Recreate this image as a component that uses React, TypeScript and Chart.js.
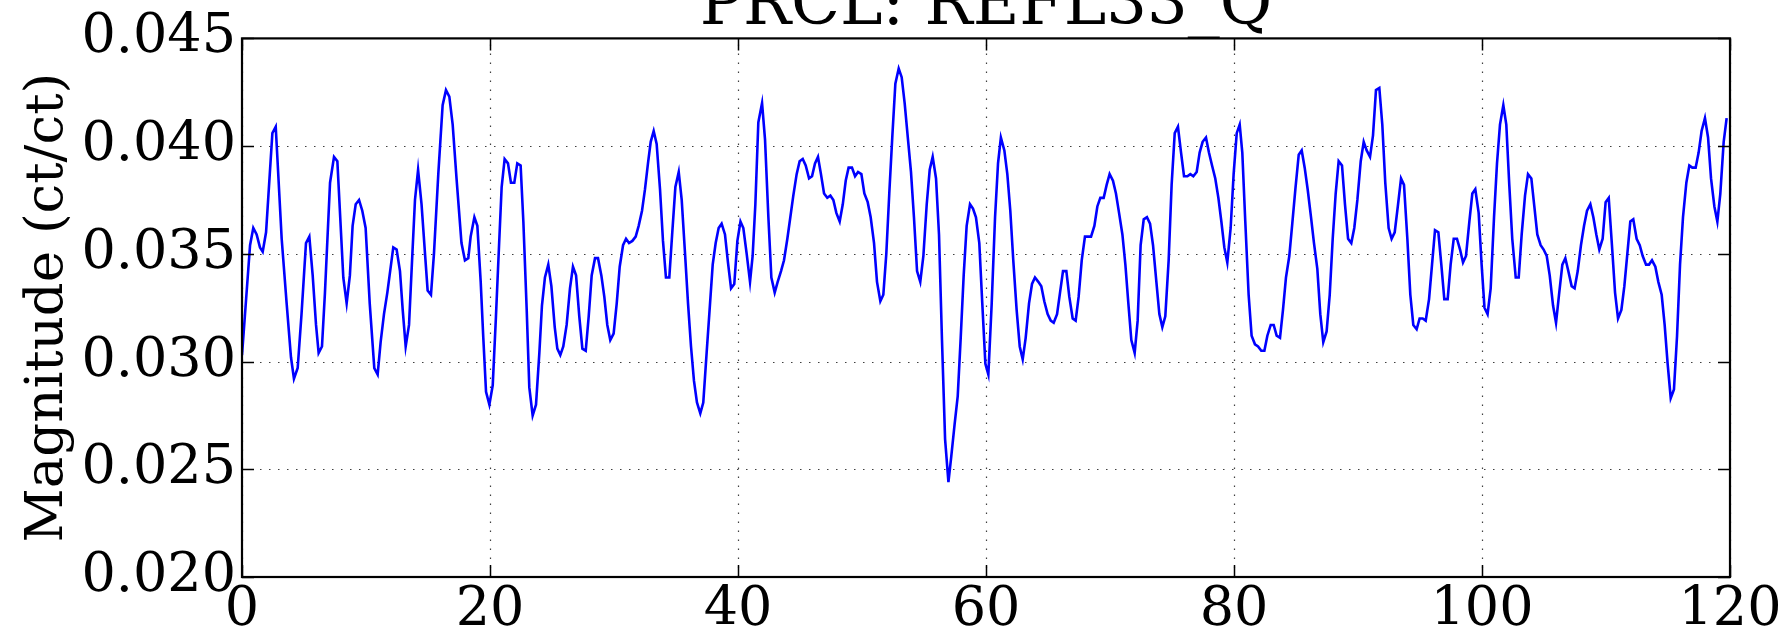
import React, { useEffect, useRef } from "react";
import { Chart, registerables } from "chart.js";

Chart.register(...registerables);

const titleText = "PRCL: REFL33_Q";
const yLabel = "Magnitude (ct/ct)";
const xTickValues = [0, 20, 40, 60, 80, 100, 120];
const yTickValues = [0.02, 0.025, 0.03, 0.035, 0.04, 0.045];

const times = [
  0, 0.65, 0.91, 1.18, 1.45, 1.67, 1.94, 2.45, 2.72, 3.2, 3.6, 3.95, 4.19, 4.49, 4.8, 5.16, 5.43, 5.7, 5.97, 6.18,
  6.45, 6.69, 7.1, 7.42, 7.69, 8.17, 8.44, 8.7, 8.92, 9.17, 9.44, 9.7, 9.97, 10.3, 10.67, 10.94, 11.18, 11.45, 11.72, 12.2,
  12.47, 12.74, 12.96, 13.2, 13.47, 13.74, 13.95, 14.2, 14.48, 14.76, 14.97, 15.24, 15.48, 15.83, 16.18, 16.45, 16.72, 16.99, 17.3, 17.7,
  17.98, 18.25, 18.44, 18.74, 18.98, 19.25, 19.46, 19.68, 19.95, 20.22, 20.48, 20.73, 20.94, 21.18, 21.45, 21.69, 21.96, 22.2, 22.47, 22.69,
  22.96, 23.17, 23.44, 23.71, 23.98, 24.19, 24.43, 24.7, 24.95, 25.22, 25.43, 25.67, 25.91, 26.18, 26.45, 26.69, 26.94, 27.2, 27.45, 27.72,
  27.96, 28.2, 28.47, 28.71, 28.98, 29.22, 29.46, 29.7, 29.97, 30.22, 30.46, 30.73, 30.97, 31.21, 31.48, 31.75, 31.99, 32.26, 32.5, 32.74,
  32.96, 33.2, 33.44, 33.71, 33.95, 34.19, 34.46, 34.7, 34.95, 35.22, 35.46, 35.73, 35.97, 36.21, 36.45, 36.69, 36.96, 37.2, 37.47, 37.71,
  37.96, 38.2, 38.44, 38.68, 38.95, 39.19, 39.44, 39.7, 39.95, 40.2, 40.43, 40.7, 40.97, 41.18, 41.4, 41.64, 41.94, 42.18, 42.45, 42.69,
  42.96, 43.2, 43.47, 43.71, 43.98, 44.22, 44.46, 44.73, 44.97, 45.22, 45.46, 45.73, 45.97, 46.21, 46.45, 46.69, 46.94, 47.2, 47.45, 47.69,
  47.93, 48.2, 48.45, 48.69, 48.92, 49.19, 49.44, 49.68, 49.95, 50.19, 50.46, 50.7, 50.97, 51.21, 51.48, 51.72, 51.96, 52.2, 52.45, 52.69,
  52.96, 53.2, 53.44, 53.71, 53.95, 54.19, 54.44, 54.7, 54.95, 55.22, 55.46, 55.7, 55.97, 56.21, 56.45, 56.7, 56.97, 57.2, 57.47, 57.72,
  57.96, 58.2, 58.44, 58.71, 58.95, 59.19, 59.46, 59.7, 59.95, 60.19, 60.46, 60.73, 60.97, 61.2, 61.48, 61.72, 61.96, 62.2, 62.47, 62.72,
  62.96, 63.2, 63.47, 63.71, 63.95, 64.22, 64.46, 64.7, 64.97, 65.22, 65.46, 65.73, 65.97, 66.21, 66.48, 66.72, 66.99, 67.23, 67.47, 67.72,
  67.98, 68.23, 68.47, 68.74, 68.98, 69.22, 69.49, 69.73, 69.97, 70.24, 70.48, 70.73, 71.0, 71.24, 71.48, 71.72, 71.99, 72.23, 72.47, 72.72,
  72.98, 73.23, 73.47, 73.74, 73.98, 74.22, 74.46, 74.73, 74.97, 75.22, 75.48, 75.73, 75.97, 76.24, 76.48, 76.72, 76.99, 77.23, 77.47, 77.74,
  77.98, 78.23, 78.49, 78.74, 78.98, 79.22, 79.46, 79.73, 79.97, 80.22, 80.46, 80.67, 80.91, 81.18, 81.42, 81.69, 81.94, 82.2, 82.45, 82.69,
  82.96, 83.2, 83.44, 83.71, 83.95, 84.19, 84.46, 84.7, 84.95, 85.22, 85.46, 85.7, 85.94, 86.21, 86.45, 86.72, 86.96, 87.2, 87.47, 87.72,
  87.96, 88.2, 88.44, 88.71, 88.95, 89.2, 89.46, 89.7, 89.95, 90.22, 90.46, 90.7, 90.97, 91.21, 91.45, 91.72, 91.96, 92.2, 92.47, 92.71,
  92.96, 93.23, 93.47, 93.71, 93.98, 94.22, 94.46, 94.73, 94.97, 95.22, 95.46, 95.73, 95.97, 96.21, 96.48, 96.72, 96.96, 97.23, 97.47, 97.72,
  97.98, 98.23, 98.47, 98.71, 98.98, 99.22, 99.46, 99.73, 99.97, 100.2, 100.45, 100.7, 100.97, 101.21, 101.45, 101.72, 101.96, 102.2, 102.44, 102.72,
  102.96, 103.2, 103.47, 103.71, 103.98, 104.22, 104.46, 104.73, 104.97, 105.22, 105.46, 105.73, 105.97, 106.21, 106.48, 106.72, 106.96, 107.23, 107.47, 107.72,
  107.98, 108.23, 108.47, 108.74, 108.98, 109.22, 109.46, 109.73, 109.97, 110.22, 110.48, 110.73, 110.97, 111.24, 111.48, 111.72, 111.96, 112.2, 112.47, 112.72,
  112.96, 113.23, 113.47, 113.71, 113.98, 114.22, 114.49, 114.73, 114.97, 115.22, 115.48, 115.73, 115.97, 116.21, 116.48, 116.72, 116.96, 117.23, 117.47, 117.71,
  117.98, 118.23, 118.47, 118.74, 118.98, 119.22, 119.49, 119.73,
];

const magnitude = [
  0.0303, 0.0354, 0.0362, 0.0359, 0.0353, 0.0351, 0.036, 0.0406, 0.0409, 0.0357, 0.0327, 0.0302, 0.0292, 0.0297, 0.0322, 0.0355, 0.0358, 0.034, 0.0317, 0.0304,
  0.0307, 0.0332, 0.0383, 0.0395, 0.0393, 0.0339, 0.0327, 0.034, 0.0363, 0.0373, 0.0375, 0.037, 0.0362, 0.0327, 0.0297, 0.0294, 0.0309, 0.0322, 0.0332, 0.0353,
  0.0352, 0.0342, 0.0324, 0.0307, 0.0317, 0.035, 0.0375, 0.0389, 0.0373, 0.035, 0.0333, 0.0331, 0.035, 0.0387, 0.0419, 0.0426, 0.0423, 0.041, 0.0385, 0.0355,
  0.0347, 0.0348, 0.0358, 0.0367, 0.0363, 0.0337, 0.0311, 0.0286, 0.028, 0.0289, 0.0321, 0.0354, 0.0381, 0.0394, 0.0392, 0.0383, 0.0383, 0.0392, 0.0391, 0.0365,
  0.0324, 0.0288, 0.0275, 0.028, 0.0304, 0.0326, 0.0339, 0.0345, 0.0335, 0.0316, 0.0306, 0.0303, 0.0307, 0.0317, 0.0334, 0.0344, 0.034, 0.0321, 0.0306, 0.0305,
  0.0321, 0.034, 0.0348, 0.0348, 0.034, 0.033, 0.0317, 0.031, 0.0313, 0.0327, 0.0344, 0.0354, 0.0357, 0.0355, 0.0356, 0.0358, 0.0363, 0.037, 0.038, 0.0392,
  0.0402, 0.0407, 0.0401, 0.038, 0.0356, 0.0339, 0.0339, 0.036, 0.0381, 0.0388, 0.0375, 0.035, 0.0327, 0.0307, 0.0291, 0.0281, 0.0276, 0.0281, 0.0304, 0.0324,
  0.0345, 0.0355, 0.0362, 0.0364, 0.0359, 0.0346, 0.0334, 0.0336, 0.0356, 0.0365, 0.0362, 0.035, 0.0337, 0.0349, 0.0373, 0.0411, 0.042, 0.0403, 0.0367, 0.0339,
  0.0332, 0.0337, 0.0342, 0.0347, 0.0357, 0.0367, 0.0377, 0.0387, 0.0393, 0.0394, 0.0391, 0.0385, 0.0386, 0.0392, 0.0395, 0.0387, 0.0378, 0.0376, 0.0377, 0.0375,
  0.0369, 0.0365, 0.0373, 0.0384, 0.039, 0.039, 0.0386, 0.0388, 0.0387, 0.0378, 0.0374, 0.0367, 0.0355, 0.0337, 0.0328, 0.0331, 0.035, 0.0378, 0.0405, 0.0429,
  0.0436, 0.0432, 0.042, 0.0403, 0.0388, 0.0367, 0.0342, 0.0337, 0.0349, 0.0373, 0.0389, 0.0395, 0.0385, 0.0359, 0.031, 0.0264, 0.0244, 0.0256, 0.0271, 0.0284,
  0.0311, 0.034, 0.0363, 0.0373, 0.0371, 0.0367, 0.0355, 0.0327, 0.0299, 0.0294, 0.0327, 0.0367, 0.0392, 0.0404, 0.0398, 0.0387, 0.037, 0.0347, 0.0324, 0.0307,
  0.0301, 0.0311, 0.0327, 0.0336, 0.0339, 0.0337, 0.0335, 0.0328, 0.0322, 0.0319, 0.0318, 0.0322, 0.0332, 0.0342, 0.0342, 0.033, 0.032, 0.0319, 0.033, 0.0347,
  0.0358, 0.0358, 0.0358, 0.0363, 0.0372, 0.0376, 0.0376, 0.0382, 0.0387, 0.0384, 0.0378, 0.0369, 0.0359, 0.0345, 0.0327, 0.031, 0.0304, 0.0319, 0.0354, 0.0366,
  0.0367, 0.0364, 0.0354, 0.0337, 0.0322, 0.0316, 0.0321, 0.0347, 0.0382, 0.0406, 0.0409, 0.0397, 0.0386, 0.0386, 0.0387, 0.0386, 0.0388, 0.0397, 0.0402, 0.0404,
  0.0397, 0.0391, 0.0385, 0.0376, 0.0365, 0.0353, 0.0346, 0.0362, 0.0387, 0.0406, 0.041, 0.0397, 0.0365, 0.0331, 0.0312, 0.0308, 0.0307, 0.0305, 0.0305, 0.0312,
  0.0317, 0.0317, 0.0312, 0.0311, 0.0324, 0.0339, 0.0349, 0.0364, 0.038, 0.0396, 0.0398, 0.039, 0.038, 0.0367, 0.0355, 0.0343, 0.0322, 0.0309, 0.0314, 0.0331,
  0.0357, 0.0378, 0.0393, 0.0391, 0.0373, 0.0357, 0.0355, 0.0362, 0.0375, 0.0393, 0.0402, 0.0398, 0.0395, 0.0405, 0.0426, 0.0427, 0.041, 0.0383, 0.0362, 0.0357,
  0.036, 0.0373, 0.0385, 0.0382, 0.0357, 0.0331, 0.0317, 0.0315, 0.032, 0.032, 0.0319, 0.0329, 0.0345, 0.0361, 0.036, 0.0345, 0.0329, 0.0329, 0.0345, 0.0357,
  0.0357, 0.0352, 0.0346, 0.0349, 0.0365, 0.0378, 0.038, 0.0369, 0.0345, 0.0325, 0.0322, 0.0334, 0.0367, 0.0392, 0.041, 0.0419, 0.041, 0.0382, 0.0357, 0.0339,
  0.0339, 0.0359, 0.0377, 0.0387, 0.0385, 0.0372, 0.0359, 0.0354, 0.0352, 0.0349, 0.034, 0.0326, 0.0318, 0.0331, 0.0345, 0.0348, 0.0342, 0.0335, 0.0334, 0.0342,
  0.0354, 0.0363, 0.037, 0.0373, 0.0367, 0.0359, 0.0352, 0.0357, 0.0374, 0.0376, 0.0354, 0.0332, 0.032, 0.0324, 0.0335, 0.035, 0.0365, 0.0366, 0.0357, 0.0354,
  0.0349, 0.0345, 0.0345, 0.0347, 0.0344, 0.0337, 0.0331, 0.0317, 0.0299, 0.0283, 0.0287, 0.0312, 0.0345, 0.0367, 0.0383, 0.0391, 0.039, 0.039, 0.0397, 0.0407,
  0.0413, 0.0404, 0.0385, 0.0372, 0.0365, 0.0378, 0.0402, 0.0413,
];

const FONT = "'DejaVu Serif', serif";
const W = 1791;
const H = 633;

const decorPlugin = {
  id: "decor",
  beforeDatasetsDraw(chart: any) {
    const { ctx, chartArea, scales } = chart;
    const { left, right, top, bottom } = chartArea;
    ctx.save();
    ctx.strokeStyle = "rgba(0,0,0,0.75)";
    ctx.lineWidth = 1.2;
    ctx.setLineDash([1.5, 7.5]);
    scales.x.ticks.forEach((t: any) => {
      const px = Math.round(scales.x.getPixelForValue(t.value)) + 0.5;
      ctx.beginPath();
      ctx.moveTo(px, bottom);
      ctx.lineTo(px, top);
      ctx.stroke();
    });
    scales.y.ticks.forEach((t: any) => {
      const py = Math.round(scales.y.getPixelForValue(t.value)) + 0.5;
      ctx.beginPath();
      ctx.moveTo(left, py);
      ctx.lineTo(right, py);
      ctx.stroke();
    });
    ctx.restore();
  },
  afterDatasetsDraw(chart: any) {
    const { ctx, chartArea, scales } = chart;
    const { left, right, top, bottom } = chartArea;
    ctx.save();
    ctx.setLineDash([]);
    ctx.strokeStyle = "#000";
    ctx.lineWidth = 1.5;
    const tl = 12;
    scales.x.ticks.forEach((t: any) => {
      const px = Math.round(scales.x.getPixelForValue(t.value)) + 0.5;
      ctx.beginPath();
      ctx.moveTo(px, bottom);
      ctx.lineTo(px, bottom - tl);
      ctx.moveTo(px, top);
      ctx.lineTo(px, top + tl);
      ctx.stroke();
    });
    scales.y.ticks.forEach((t: any) => {
      const py = Math.round(scales.y.getPixelForValue(t.value)) + 0.5;
      ctx.beginPath();
      ctx.moveTo(left, py);
      ctx.lineTo(left + tl, py);
      ctx.moveTo(right, py);
      ctx.lineTo(right - tl, py);
      ctx.stroke();
    });
    ctx.lineWidth = 2.2;
    ctx.strokeRect(left, top, right - left, bottom - top);
    ctx.fillStyle = "#000";
    ctx.font = `64px ${FONT}`;
    ctx.textAlign = "center";
    ctx.textBaseline = "alphabetic";
    ctx.fillText(titleText, (left + right) / 2, 24);
    ctx.restore();
  },
};

export default function App() {
  const ref = useRef<HTMLCanvasElement | null>(null);
  useEffect(() => {
    if (!ref.current) return;
    const points = times.map((t, i) => ({ x: t, y: magnitude[i] }));
    const chart = new Chart(ref.current, {
      type: "line",
      data: {
        datasets: [
          {
            data: points,
            borderColor: "#0000ff",
            borderWidth: 2.6,
            pointRadius: 0,
            fill: false,
            tension: 0,
          },
        ],
      },
      options: {
        responsive: false,
        animation: false,
        events: [],
        layout: { padding: { top: 36, right: 61, left: 0, bottom: 0 } },
        plugins: { legend: { display: false }, tooltip: { enabled: false }, title: { display: false } },
        scales: {
          x: {
            type: "linear",
            min: 0,
            max: 120,
            grid: { display: false, drawTicks: false },
            border: { display: false },
            afterBuildTicks: (scale: any) => {
              scale.ticks = xTickValues.map((v) => ({ value: v }));
            },
            afterFit: (scale: any) => {
              scale.height = 56;
            },
            ticks: {
              color: "#000",
              font: { family: FONT, size: 54 },
              padding: 2,
              maxRotation: 0,
              autoSkip: false,
              callback: (v: any) => String(v),
            },
          },
          y: {
            type: "linear",
            min: 0.02,
            max: 0.045,
            grid: { display: false, drawTicks: false },
            border: { display: false },
            afterBuildTicks: (scale: any) => {
              scale.ticks = yTickValues.map((v) => ({ value: v }));
            },
            afterFit: (scale: any) => {
              scale.width = 242;
            },
            title: {
              display: true,
              text: yLabel,
              color: "#000",
              font: { family: FONT, size: 53 },
              padding: { top: 16, bottom: 0 },
            },
            ticks: {
              color: "#000",
              font: { family: FONT, size: 54 },
              padding: 6,
              autoSkip: false,
              callback: (v: any) => Number(v).toFixed(3),
            },
          },
        },
      },
      plugins: [decorPlugin],
    });
    return () => chart.destroy();
  }, []);
  return (
    <div style={{ position: "fixed", left: 0, top: 0, width: W, height: H, background: "#fff" }}>
      <canvas ref={ref} width={W} height={H} style={{ width: W, height: H, display: "block" }} />
    </div>
  );
}
